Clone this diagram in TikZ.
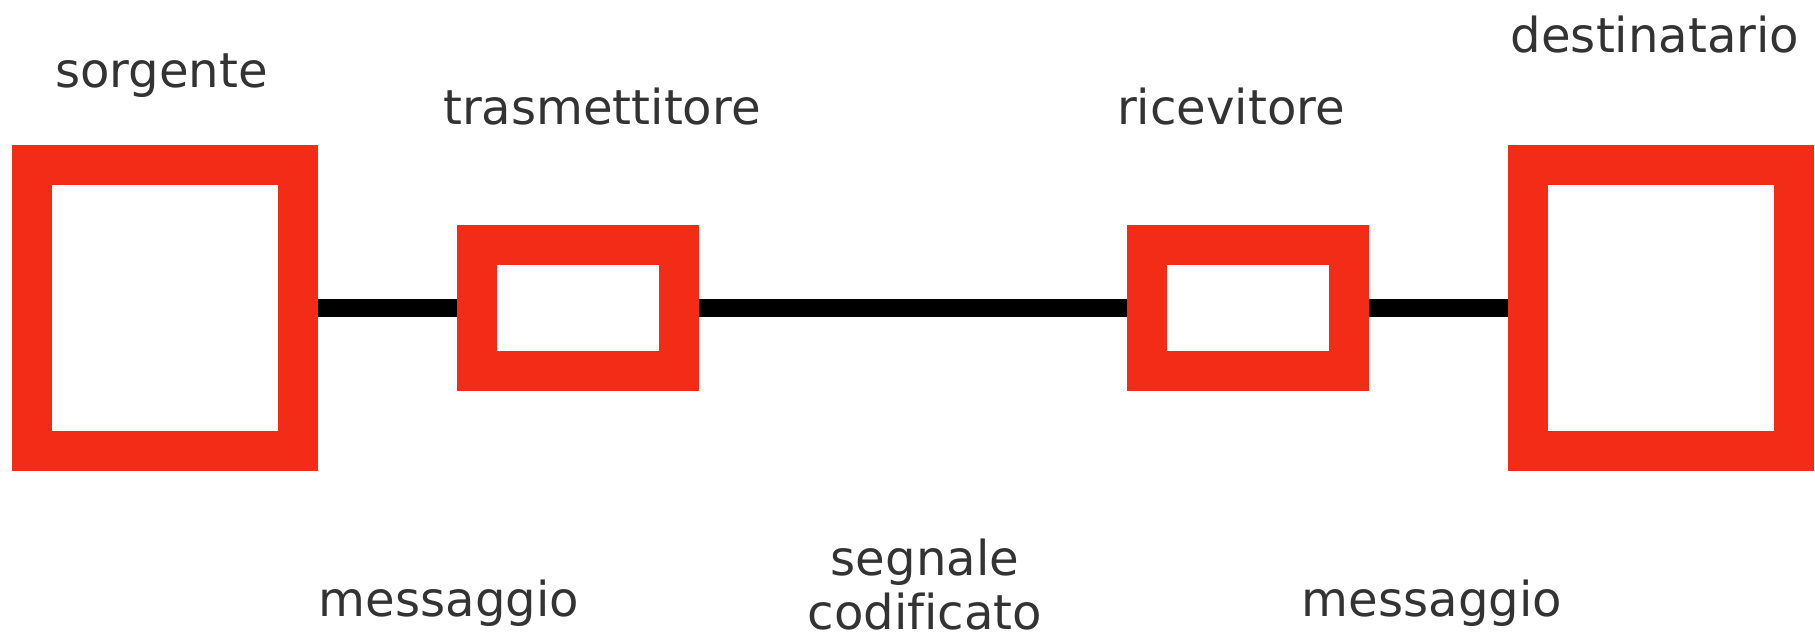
\documentclass[tikz,border=0pt]{standalone}
\usepackage{fontspec}
\setmainfont[Ligatures = NoCommon]{DejaVu Sans}
\usepackage{tikz}
\usetikzlibrary{positioning}
\definecolor{rossoblocco}{RGB}{243,44,24}
\definecolor{grigiotesto}{RGB}{51,51,51}
\tikzstyle{blocco} = [rectangle, draw = rossoblocco, line width = 0.4cm, fill = white, inner sep = 0pt, outer sep = 0.2cm, minimum width = 2.66cm, minimum height = 2.86cm]
\tikzstyle{etichetta} = [anchor = base, text = grigiotesto, font = \fontsize{13.7}{15.1}\selectfont, inner sep = 0pt, align = center]
\tikzstyle{filo} = [draw = black, line width = 0.18cm]

\begin{document}
\begin{tikzpicture}
\useasboundingbox (0,0) rectangle (18.15,-6.37);
\node (sorg) [blocco, xshift = 1.65cm, yshift = -3.08cm] {};
\node (tx) [blocco, minimum width = 2.02cm, minimum height = 1.26cm, xshift = 5.78cm, yshift = -3.08cm] {};
\node (rx) [blocco, minimum width = 2.02cm, minimum height = 1.26cm, xshift = 12.48cm, yshift = -3.08cm] {};
\node (dest) [blocco, xshift = 16.61cm, yshift = -3.08cm] {};
\draw[filo] (sorg) -- (tx);
\draw[filo] (tx) -- (rx);
\draw[filo] (rx) -- (dest);
% etichette
\node (lsorg) [etichetta, xshift = 1.615cm, yshift = -0.87cm] {sorgente};
\node (ltx) [etichetta, xshift = 6.02cm, yshift = -1.24cm] {trasmettitore};
\node (lrx) [etichetta, xshift = 12.31cm, yshift = -1.24cm] {ricevitore};
\node (ldest) [etichetta, xshift = 16.55cm, yshift = -0.52cm] {destinatario};
\node (lmsg1) [etichetta, xshift = 4.49cm, yshift = -6.16cm] {messaggio};
\node (lsegn) [etichetta, xshift = 9.25cm, yshift = -6.29cm] {segnale\\codificato};
\node (lmsg2) [etichetta, xshift = 14.32cm, yshift = -6.16cm] {messaggio};
\end{tikzpicture}
\end{document}
